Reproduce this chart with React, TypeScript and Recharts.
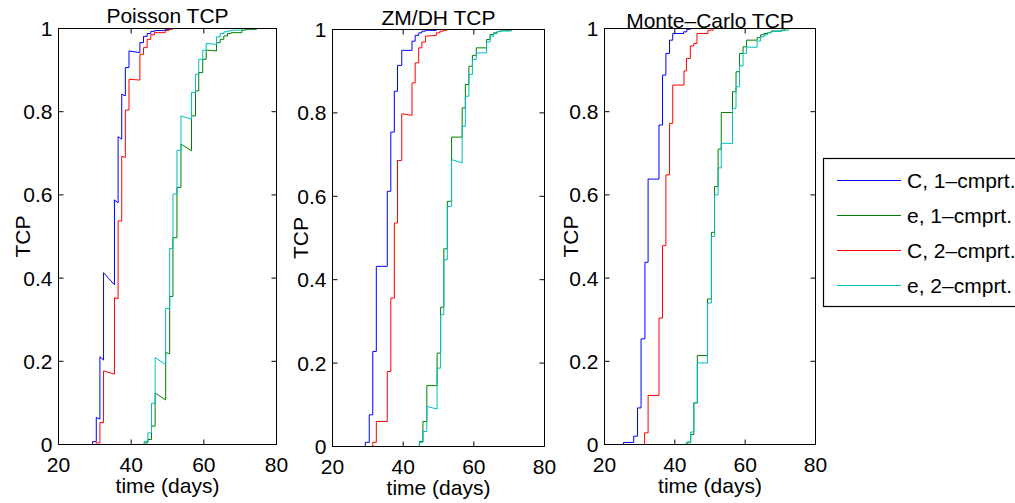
import React from "react";
import { LineChart, Line, XAxis, YAxis } from "recharts";

// [day of jump, value after jump, value reached just before the next jump]
type Step = [number, number, number?];

// Poisson TCP
const poissonC1: Step[] = [[29.4, 0.007], [30.4, 0.065, 0.061], [31.4, 0.211, 0.203], [32.4, 0.413, 0.384], [35.4, 0.588, 0.581], [36.4, 0.74, 0.734], [37.4, 0.842, 0.838], [38.4, 0.906], [39.4, 0.946, 0.942], [42.4, 0.966], [43.4, 0.981], [44.4, 0.988], [45.4, 0.993], [46.4, 0.995], [49.4, 0.998], [50.4, 1]];
const poissonE1: Step[] = [[43.6, 0.004], [44.6, 0.012], [45.6, 0.044], [46.6, 0.124, 0.107], [49.5, 0.221, 0.218], [50.6, 0.356], [51.5, 0.497], [52.6, 0.618], [53.7, 0.722, 0.706], [56.6, 0.79], [57.7, 0.85], [58.6, 0.894], [59.7, 0.926], [60.65, 0.948, 0.946], [63.5, 0.966], [64.5, 0.974], [65.5, 0.982], [66.5, 0.988], [67.5, 0.99], [70.5, 0.996], [71.5, 0.998], [74.5, 1]];
const poissonC2: Step[] = [[30.4, 0.004], [31.4, 0.053], [32.4, 0.177, 0.169], [35.4, 0.353, 0.35], [36.4, 0.538, 0.537], [37.4, 0.693, 0.69], [38.4, 0.804], [39.4, 0.878, 0.876], [42.4, 0.938], [43.4, 0.954], [44.4, 0.974], [45.4, 0.985], [46.4, 0.99], [49.4, 0.995], [50.4, 0.998], [51.4, 1]];
const poissonE2: Step[] = [[43.6, 0.007], [44.6, 0.028], [45.6, 0.099], [46.6, 0.209, 0.192], [49.5, 0.327], [50.6, 0.471], [51.5, 0.602], [52.6, 0.707], [53.7, 0.79, 0.782], [56.6, 0.846], [57.7, 0.89], [58.6, 0.926], [59.7, 0.948], [60.65, 0.964, 0.962], [63.5, 0.98], [64.5, 0.988], [65.5, 0.992], [66.5, 0.994], [67.5, 0.996], [70.5, 1]];

// ZM/DH TCP
const zmC1: Step[] = [[29.3, 0.01], [30.4, 0.076], [31.4, 0.228], [32.4, 0.432], [35.5, 0.612], [36.5, 0.754], [37.5, 0.852], [38.4, 0.914], [39.6, 0.95], [42.5, 0.972], [43.4, 0.986], [44.4, 0.992], [45.3, 0.996], [46.3, 0.998], [49.4, 1]];
const zmE1: Step[] = [[44.6, 0.012], [45.6, 0.06], [46.7, 0.146], [49.6, 0.224], [50.6, 0.334], [51.5, 0.474], [52.5, 0.588], [53.7, 0.742], [56.7, 0.812], [57.6, 0.868], [58.6, 0.912], [59.6, 0.938], [60.7, 0.956], [63.6, 0.976], [64.6, 0.988], [65.6, 0.992], [66.6, 0.995], [67.6, 0.997], [70.6, 1]];
const zmC2: Step[] = [[31.4, 0.01], [32.4, 0.06], [35.5, 0.18], [36.5, 0.356], [37.5, 0.536], [38.4, 0.686], [39.6, 0.798, 0.794], [42.5, 0.872], [43.4, 0.92], [44.4, 0.956], [45.3, 0.97], [46.3, 0.984, 0.986], [49.4, 0.992], [50.4, 0.996], [51.4, 0.998], [52.4, 1]];
const zmE2: Step[] = [[44.6, 0.01], [45.6, 0.036], [46.7, 0.096, 0.09], [49.6, 0.188], [50.6, 0.316], [51.5, 0.448], [52.5, 0.576], [53.7, 0.688, 0.68], [56.7, 0.768], [57.6, 0.84], [58.6, 0.892], [59.6, 0.928], [60.7, 0.944], [63.6, 0.97], [64.6, 0.984], [65.6, 0.99], [66.6, 0.995], [67.6, 0.997], [70.6, 1]];

// Monte-Carlo TCP
const mcC1: Step[] = [[25.4, 0.005], [28.3, 0.02], [29.4, 0.088], [30.4, 0.254], [31.5, 0.438], [32.4, 0.638], [35.5, 0.768], [36.5, 0.888], [37.45, 0.94], [38.5, 0.972], [39.4, 0.988], [42.5, 0.992], [43.4, 0.998], [44.4, 1]];
const mcE1: Step[] = [[43.5, 0.006], [44.5, 0.024], [45.4, 0.1], [46.4, 0.214], [49.3, 0.35], [50.4, 0.51], [51.3, 0.62], [52.3, 0.71], [53.2, 0.798], [56.4, 0.848], [57.4, 0.896], [58.4, 0.94], [59.4, 0.956], [60.4, 0.972], [63.4, 0.978], [64.4, 0.985], [65.4, 0.988], [66.4, 0.99], [67.4, 0.994], [70.4, 0.996], [71.4, 1]];
const mcC2: Step[] = [[31.4, 0.028], [32.4, 0.118], [35.5, 0.304], [36.5, 0.478], [37.45, 0.648], [38.5, 0.772], [39.4, 0.864], [42.6, 0.898], [43.3, 0.928], [44.4, 0.958], [45.4, 0.964], [46.3, 0.988], [49.4, 0.996], [50.9, 1]];
const mcE2: Step[] = [[43.2, 0.004], [44.5, 0.03], [45.4, 0.1], [46.4, 0.196], [49.3, 0.34], [50.4, 0.5], [51.3, 0.6], [52.3, 0.665], [53.2, 0.724], [56.4, 0.808], [57.4, 0.86], [58.4, 0.91], [59.4, 0.94], [60.4, 0.955], [63.4, 0.97], [64.4, 0.98], [65.4, 0.985], [66.4, 0.99], [67.4, 0.993], [70.4, 0.996], [72.4, 1]];

const panelTitles = ["Poisson TCP", "ZM/DH TCP", "Monte\u2013Carlo TCP"];
const panelSeries = [
  [poissonC1, poissonE1, poissonC2, poissonE2],
  [zmC1, zmE1, zmC2, zmE2],
  [mcC1, mcE1, mcC2, mcE2],
];
const seriesNames = ["C, 1\u2013cmprt.", "e, 1\u2013cmprt.", "C, 2\u2013cmprt.", "e, 2\u2013cmprt."];
const seriesColors = ["#0000ff", "#008000", "#ff0000", "#00bfbf"];
const xTicks = [20, 40, 60, 80];
const yTicks = [0, 0.2, 0.4, 0.6, 0.8, 1];

const W = 1015;
const H = 503;
const FONT = "'Liberation Sans', Arial, Helvetica, sans-serif";

// plot-box geometry of each panel, in page pixels
const layout = [
  { left: 58.5, right: 276.5, top: 28.5, bottom: 444.5, titleY: 23, yLabelX: 22.5, xLabelY: 493 },
  { left: 332.5, right: 544.5, top: 29.5, bottom: 446.5, titleY: 25, yLabelX: 300.5, xLabelY: 495 },
  { left: 604.5, right: 815.5, top: 28.5, bottom: 444.5, titleY: 27.5, yLabelX: 570.5, xLabelY: 493 },
];

function toPoints(steps: Step[]) {
  const pts = [{ x: 20, y: 0 }];
  let prev = 0;
  steps.forEach(([d, s, e], i) => {
    const end = e ?? s;
    const next = i < steps.length - 1 ? steps[i + 1][0] : 80;
    pts.push({ x: d, y: prev }, { x: d, y: s }, { x: next, y: end });
    prev = end;
  });
  return pts;
}

const tickStyle = { fill: "#000", fontSize: 21, fontFamily: FONT };

function Panel({ idx }: { idx: number }) {
  const L = layout[idx];
  return (
    <div style={{ position: "absolute", left: 0, top: 0 }}>
      <LineChart
        width={W}
        height={H}
        margin={{ top: L.top - 10, left: L.left - 60, right: W - L.right - 10, bottom: H - L.bottom - 50 }}
      >
        <XAxis xAxisId="b" dataKey="x" type="number" domain={[20, 80]} ticks={xTicks} interval={0}
          height={50} tickSize={-5} tickMargin={17.5} stroke="#000" tick={tickStyle} allowDataOverflow />
        <XAxis xAxisId="t" orientation="top" dataKey="x" type="number" domain={[20, 80]} ticks={xTicks} interval={0}
          height={10} tickSize={-5} stroke="#000" tickFormatter={() => ""} allowDataOverflow />
        <YAxis yAxisId="l" type="number" domain={[0, 1]} ticks={yTicks} interval={0} width={60}
          tickSize={-5} tickMargin={11} stroke="#000" tick={tickStyle} tickFormatter={(v) => String(v)} allowDataOverflow />
        <YAxis yAxisId="r" orientation="right" type="number" domain={[0, 1]} ticks={yTicks} interval={0} width={10}
          tickSize={-5} stroke="#000" tickFormatter={() => ""} allowDataOverflow />
        {panelSeries[idx].map((s, i) => (
          <Line key={i} xAxisId="b" yAxisId="l" data={toPoints(s)} dataKey="y" type="linear"
            stroke={seriesColors[i]} strokeWidth={1} dot={false} activeDot={false} isAnimationActive={false} />
        ))}
      </LineChart>
    </div>
  );
}

export default function App() {
  return (
    <div style={{ position: "absolute", left: 0, top: 0, width: W, height: H, overflow: "hidden", background: "#fff" }}>
      {[0, 1, 2].map((i) => <Panel key={i} idx={i} />)}
      <svg width={W} height={H} style={{ position: "absolute", left: 0, top: 0, pointerEvents: "none" }}
        fontFamily={FONT} fontSize={21} fill="#000">
        {layout.map((L, i) => (
          <g key={i}>
            <text x={(L.left + L.right) / 2} y={L.titleY} textAnchor="middle">{panelTitles[i]}</text>
            <text x={(L.left + L.right) / 2} y={L.xLabelY} textAnchor="middle">time (days)</text>
            <text transform={`translate(${L.yLabelX + 7.5}, ${(L.top + L.bottom) / 2}) rotate(-90)`} textAnchor="middle">TCP</text>
          </g>
        ))}
        <rect x={823.5} y={158.5} width={220} height={148} fill="#fff" stroke="#000" strokeWidth={1.2} />
        {seriesNames.map((n, i) => {
          const y = 180.5 + i * 35;
          return (
            <g key={n}>
              <line x1={837} x2={901} y1={y} y2={y} stroke={seriesColors[i]} strokeWidth={1} />
              <text x={907} y={y + 7.5} fontSize={21}>{n}</text>
            </g>
          );
        })}
      </svg>
    </div>
  );
}
